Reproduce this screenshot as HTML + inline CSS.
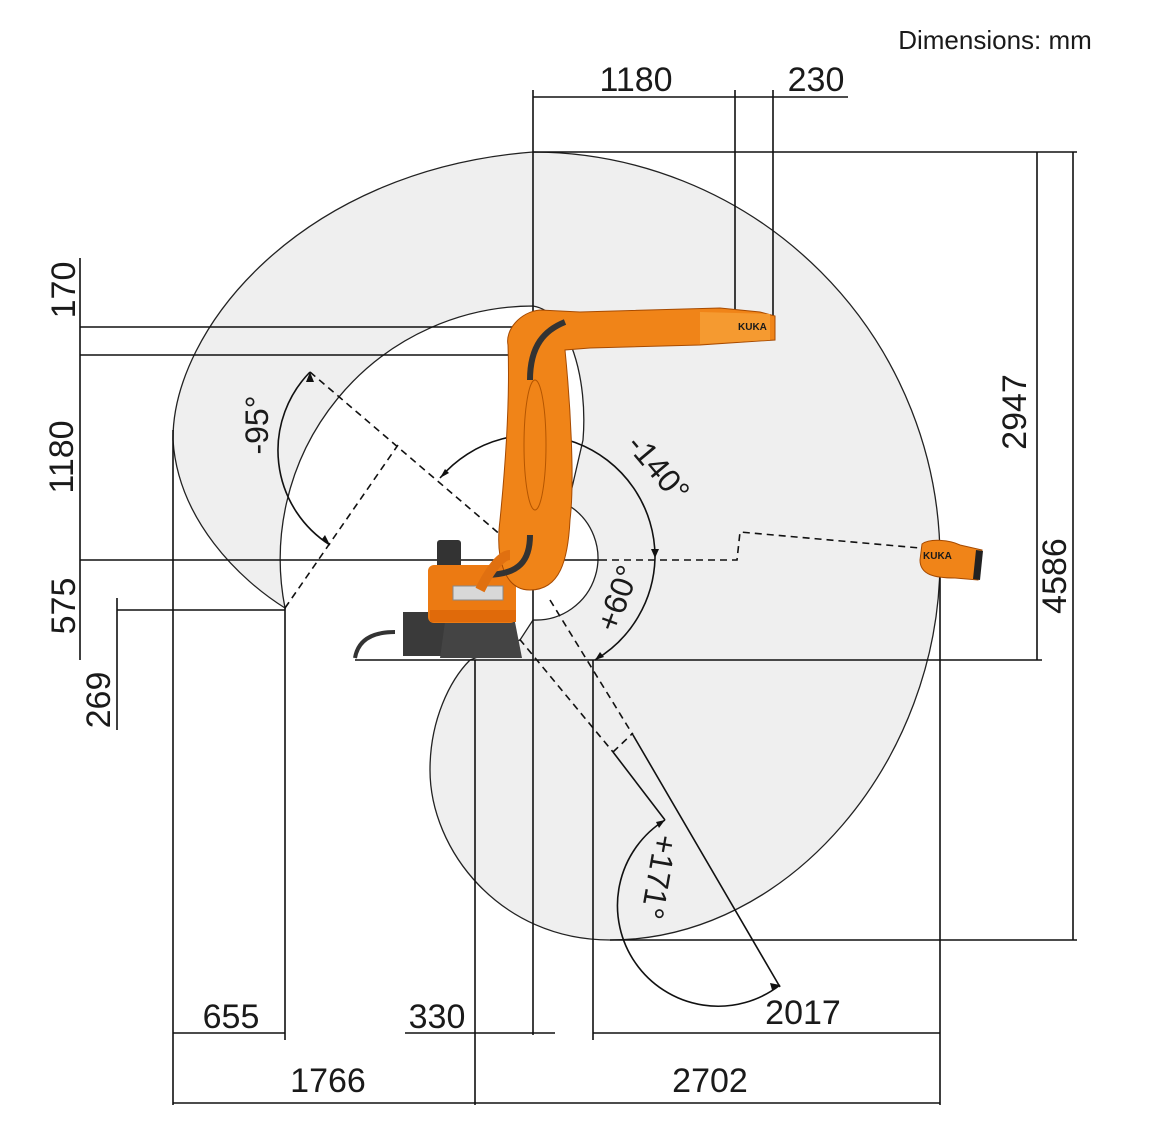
<!DOCTYPE html>
<html><head><meta charset="utf-8"><style>
html,body{margin:0;padding:0;background:#fff;}
svg{display:block;}
text{font-family:"Liberation Sans",Arial,sans-serif;fill:#1a1a1a;}
</style></head><body>
<svg width="1159" height="1140" viewBox="0 0 1159 1140" xmlns="http://www.w3.org/2000/svg">
<path fill="#efefef" stroke="#222" stroke-width="1.3" fill-rule="evenodd"
 d="M285,608 C240,580 178,520 173,440 C172,330 300,170 533,152 A408,408 0 0 1 940,560 C940,760 790,940 610,940 C500,940 430,850 430,770 C430,720 450,680 470,660 L520,640 L533,620 A62,62 0 0 0 568,505 L583,440 C588,380 570,312 533,306 A253,253 0 0 0 285,608 Z"/>
<g fill="none" stroke="#111" stroke-width="1.6">
 <path d="M440,478 A122,122 0 0 1 655,558"/>
 <path d="M655,558 A122,122 0 0 1 595,660"/>
 <path d="M310,372 A112,112 0 0 0 330,545"/>
 <path d="M665,820 A100.7,100.7 0 1 0 780,985"/>
 <path d="M533,90 V1035 M735,90 V310 M773,90 V318 M533,97 H848"/>
 <path d="M533,152 H1077 M610,940 H1077 M1073,152 V940 M1037,152 V660"/>
 <path d="M355,660 H1042"/>
 <path d="M80,258 V660 M80,327 H533 M80,355 H512 M80,560 H600"/>
 <path d="M117,598 V730 M117,610 H285"/>
 <path d="M173,430 V1105 M285,608 V1040 M475,660 V1105 M593,660 V1040 M940,560 V1105"/>
 <path d="M173,1033 H285 M405,1033 H555 M593,1033 H940 M173,1103 H940"/>
 <path d="M633,735 L780,987 M613,752 L665,820"/>
</g>
<g fill="none" stroke="#111" stroke-width="1.6" stroke-dasharray="7,5">
 <path d="M310,372 L530,560 M285,608 L398,445 M550,600 L633,735 M512,630 L613,752 M613,752 L633,733"/>
 <path d="M600,560 H737 L740,532 L920,548"/>
</g>
<g fill="#111">
 <path d="M310,372 l-4,10 l8,0 z"/>
 <path d="M330,545 l-8,-6 l3,-4 z"/>
 <path d="M440,478 l5,-9 l4,4 z"/>
 <path d="M655,558 l-4,-9 l8,0 z"/>
 <path d="M595,660 l5,-8 l4,5 z"/>
 <path d="M665,820 l-9,2 l3,6 z"/>
 <path d="M780,985 l-10,-2 l2,7 z"/>
</g>
<text x="995" y="49" font-size="26" text-anchor="middle">Dimensions: mm</text>
<text x="636" y="91" font-size="34" text-anchor="middle">1180</text>
<text x="816" y="91" font-size="34" text-anchor="middle">230</text>
<text font-size="34" text-anchor="middle" transform="translate(75,290) rotate(-90)">170</text>
<text font-size="34" text-anchor="middle" transform="translate(73,457) rotate(-90)">1180</text>
<text font-size="34" text-anchor="middle" transform="translate(75,606) rotate(-90)">575</text>
<text font-size="34" text-anchor="middle" transform="translate(110,700) rotate(-90)">269</text>
<text font-size="34" text-anchor="middle" transform="translate(1026,412) rotate(-90)">2947</text>
<text font-size="34" text-anchor="middle" transform="translate(1066,576) rotate(-90)">4586</text>
<text x="231" y="1028" font-size="34" text-anchor="middle">655</text>
<text x="437" y="1028" font-size="34" text-anchor="middle">330</text>
<text x="803" y="1024" font-size="34" text-anchor="middle">2017</text>
<text x="328" y="1092" font-size="34" text-anchor="middle">1766</text>
<text x="710" y="1092" font-size="34" text-anchor="middle">2702</text>
<text font-size="32" text-anchor="middle" transform="translate(268,425) rotate(-90)">-95°</text>
<text font-size="32" text-anchor="middle" transform="translate(650,475) rotate(50)">-140°</text>
<text font-size="32" text-anchor="middle" transform="translate(628,602) rotate(-70)">+60°</text>
<text font-size="32" text-anchor="middle" transform="translate(648,875) rotate(100)">+171°</text>
<path d="M355,658 C358,640 372,632 395,632" fill="none" stroke="#333" stroke-width="4"/>
<rect x="403" y="612" width="42" height="44" fill="#3a3a3a"/>
<path d="M445,622 H515 L522,658 H440 Z" fill="#444"/>
<rect x="437" y="540" width="24" height="46" rx="3" fill="#333"/>
<rect x="428" y="565" width="88" height="58" rx="6" fill="#ec7a12"/>
<rect x="453" y="586" width="50" height="14" fill="#d8d8d8" stroke="#888"/>
<rect x="430" y="610" width="86" height="12" fill="#e06a0a"/>
<path d="M508,345 C505,330 520,312 540,310 L580,312 L720,308 L760,312 L775,316 V340 L700,345 L590,348 L565,350 C570,400 575,480 570,520 C568,560 560,590 530,590 C505,590 495,560 500,520 C505,470 510,400 508,345 Z" fill="#f08418" stroke="#a64a00" stroke-width="1"/>
<path d="M700,312 L770,314 V340 L700,344 Z" fill="#f59a30"/>
<text x="738" y="330" font-size="10" font-weight="bold">KUKA</text>
<ellipse cx="535" cy="445" rx="11" ry="65" fill="none" stroke="#b45500"/>
<path d="M565,322 C545,330 530,345 530,380 M530,535 C530,560 520,575 485,575" fill="none" stroke="#333" stroke-width="6"/>
<path d="M480,590 C495,560 505,555 510,555" fill="none" stroke="#e07010" stroke-width="10"/>
<path d="M922,544 C930,538 950,540 960,545 L982,550 L978,580 L955,578 C935,578 920,575 920,560 Z" fill="#f08418" stroke="#a64a00"/>
<text x="923" y="559" font-size="10" font-weight="bold">KUKA</text>
<path d="M976,550 L983,551 L980,580 L973,579 Z" fill="#222"/>
</svg>
</body></html>
